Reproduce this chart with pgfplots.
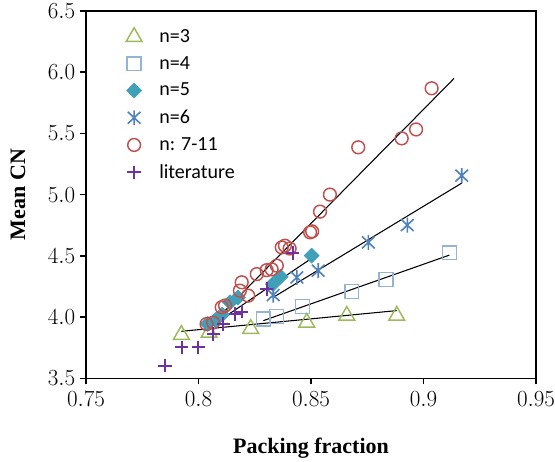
\documentclass[border=0pt]{standalone}
\usepackage[no-math]{fontspec}
\setmainfont{Liberation Serif}
\newfontfamily\legfont{Carlito}
\usepackage{pgfplots}
\pgfplotsset{compat=1.18}

\definecolor{cthree}{HTML}{9BBB59}
\definecolor{cfour}{HTML}{95B3D7}
\definecolor{cfive}{HTML}{3FA0B8}
\definecolor{csix}{HTML}{4F81BD}
\definecolor{cseven}{HTML}{C0504D}
\definecolor{clit}{HTML}{7030A0}

% star: vertical bar plus an x
\pgfdeclareplotmark{xstar}{%
  \pgfpathmoveto{\pgfqpoint{0pt}{\pgfplotmarksize}}%
  \pgfpathlineto{\pgfqpoint{0pt}{-\pgfplotmarksize}}%
  \pgfpathmoveto{\pgfqpoint{-0.85\pgfplotmarksize}{0.8\pgfplotmarksize}}%
  \pgfpathlineto{\pgfqpoint{0.85\pgfplotmarksize}{-0.8\pgfplotmarksize}}%
  \pgfpathmoveto{\pgfqpoint{-0.85\pgfplotmarksize}{-0.8\pgfplotmarksize}}%
  \pgfpathlineto{\pgfqpoint{0.85\pgfplotmarksize}{0.8\pgfplotmarksize}}%
  \pgfusepathqstroke}

\newcommand{\legtxt}[1]{\hspace*{11pt}#1}

\begin{document}
\begin{tikzpicture}
\begin{axis}[
    scale only axis,
    width=337.5pt, height=275.6pt,
    xmin=0.75, xmax=0.95,
    ymin=3.5, ymax=6.5,
    xtick={0.75,0.8,0.85,0.9,0.95},
    ytick={3.5,4,4.5,5,5.5,6,6.5},
    scaled ticks=false,
    tick align=outside,
    xtick pos=bottom, ytick pos=left,
    major tick length=4.5pt,
    axis line style={line width=1.2pt},
    tick style={line width=1pt, black},
    ticklabel style={font=\fontsize{16}{18}\selectfont},
    yticklabel style={/pgf/number format/fixed, /pgf/number format/fixed zerofill, /pgf/number format/precision=1},
    xticklabel style={/pgf/number format/fixed, /pgf/number format/precision=2, yshift=-2pt},
    xlabel={Packing fraction},
    ylabel={Mean CN},
    xlabel style={at={(axis description cs:0.5,-0.19)}, anchor=center, font=\fontsize{16.5}{19}\selectfont\bfseries},
    ylabel style={at={(axis description cs:-0.151,0.5)}, anchor=center, font=\fontsize{16.5}{19}\selectfont\bfseries},
    legend style={draw=none, fill=none, at={(0.08,0.965)}, anchor=north west,
      font=\legfont\fontsize{15}{17}\selectfont, row sep=5pt},
    legend cell align=left,
  ]

  \addplot[only marks, mark=triangle, mark size=6.8pt, color=cthree, line width=1.1pt] coordinates {
    (0.7924,3.856) (0.8047,3.873) (0.8232,3.905) (0.8481,3.956) (0.8659,4.012) (0.8881,4.012)
  };
  \addlegendentry{\legtxt{n=3}}

  \addplot[only marks, mark=square, mark size=5.2pt, color=cfour, line width=1.1pt] coordinates {
    (0.8288,3.984) (0.8347,4.004) (0.8462,4.085) (0.8681,4.208) (0.8833,4.307) (0.9115,4.525)
  };
  \addlegendentry{\legtxt{n=4}}

  \addplot[only marks, mark=square*, mark size=4pt, color=cfive, mark options={rotate=45}] coordinates {
    (0.8041,3.945) (0.8075,3.975) (0.8105,4.02) (0.8140,4.12) (0.8175,4.16)
    (0.8331,4.27) (0.8365,4.33) (0.8503,4.502)
  };
  \addlegendentry{\legtxt{n=5}}

  \addplot[only marks, mark=xstar, mark size=5.6pt, color=csix, line width=1.2pt] coordinates {
    (0.8332,4.180) (0.8437,4.324) (0.8532,4.379) (0.8755,4.610) (0.8928,4.751) (0.9170,5.155)
  };
  \addlegendentry{\legtxt{n=6}}

  \addplot[only marks, mark=o, mark size=4.8pt, color=cseven, line width=1.1pt] coordinates {
    (0.8036,3.943) (0.8065,3.955) (0.8103,4.080) (0.8118,4.094) (0.8184,4.216)
    (0.8192,4.284) (0.8221,4.175) (0.8259,4.351) (0.8303,4.383) (0.8325,4.390)
    (0.8348,4.420) (0.8370,4.569) (0.8384,4.583) (0.8405,4.560) (0.8496,4.692)
    (0.8505,4.700) (0.8540,4.861) (0.8584,5.000) (0.8710,5.386) (0.8903,5.459)
    (0.8967,5.532) (0.9036,5.868)
  };
  \addlegendentry{\legtxt{n: 7-11}}

  \addplot[only marks, mark=+, mark size=5pt, color=clit, line width=1.5pt] coordinates {
    (0.7851,3.604) (0.7925,3.753) (0.7999,3.753) (0.8066,3.862) (0.8110,3.943)
    (0.8164,4.025) (0.8192,4.045) (0.8303,4.229) (0.8418,4.523)
  };
  \addlegendentry{\legtxt{literature}}

  % trend lines
  \addplot[black, line width=0.8pt, forget plot] coordinates {(0.7924,3.884) (0.8881,4.053)};
  \addplot[black, line width=0.8pt, forget plot] coordinates {(0.8288,3.971) (0.9115,4.506)};
  \addplot[black, line width=0.8pt, forget plot] coordinates {(0.8036,3.902) (0.8503,4.480)};
  \addplot[black, line width=0.8pt, forget plot] coordinates {(0.8332,4.161) (0.9170,5.094)};
  \addplot[black, line width=0.8pt, forget plot] coordinates {(0.8044,3.916) (0.9136,5.949)};
\end{axis}
\pgfresetboundingbox
\path (-64.5pt,-62.25pt) rectangle (351.75pt,283.75pt);
\end{tikzpicture}
\end{document}
